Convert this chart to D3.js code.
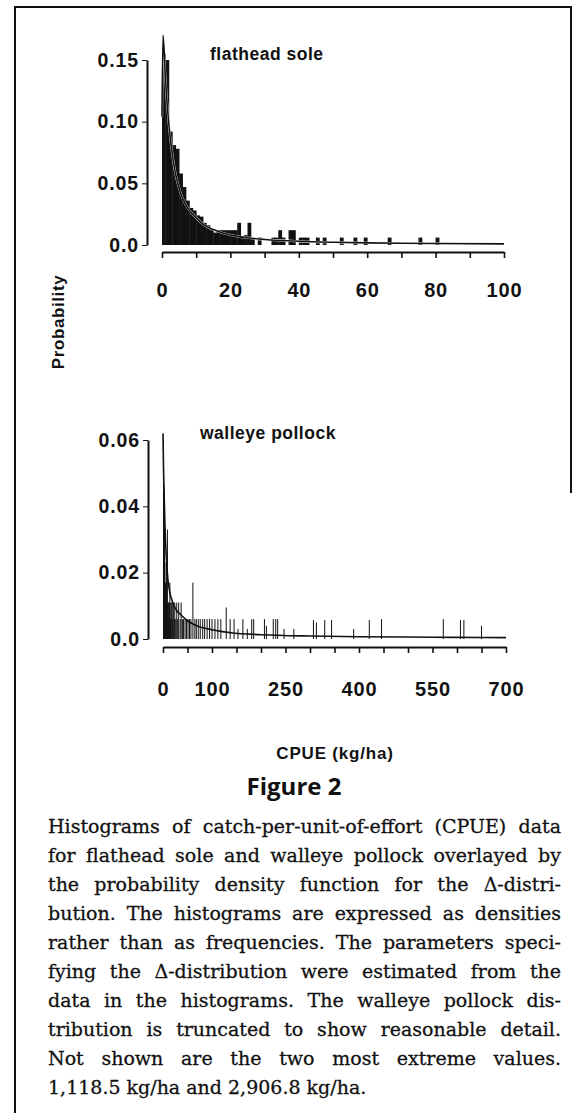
<!DOCTYPE html>
<html>
<head>
<meta charset="utf-8">
<script src="https://cdn.jsdelivr.net/npm/d3@7"></script>
<style>
  html, body { margin: 0; padding: 0; background: #fff; }
  svg { display: block; }
  .ax text { font-family: "Liberation Sans", Arial, sans-serif; font-weight: bold; fill: #111; }
  .ax path, .ax line { stroke: #111; }
</style>
</head>
<body>
<svg id="fig" width="573" height="1113"></svg>
<script>
// flathead sole histogram (bin start in kg/ha, width 1) and density
var soleBin  = [0, 1, 2, 3, 4, 5, 6, 7, 8, 9, 10, 11, 12, 13, 14, 15, 16, 17, 18, 19, 20, 21, 22, 23, 24, 25, 26, 28, 32, 33, 34, 35, 37, 38, 40, 41, 42, 45, 47, 52, 56, 59, 66, 75, 80];
var soleProb = [0.155, 0.150, 0.092, 0.081, 0.078, 0.058, 0.047, 0.036, 0.030, 0.028, 0.024, 0.023, 0.018, 0.016, 0.012, 0.010, 0.012, 0.012, 0.012, 0.012, 0.012, 0.012, 0.018, 0.006, 0.008, 0.018, 0.006, 0.006, 0.006, 0.006, 0.012, 0.006, 0.012, 0.012, 0.006, 0.006, 0.006, 0.006, 0.006, 0.006, 0.006, 0.006, 0.006, 0.006, 0.006];
var soleCurveX = [0, 0.3, 1, 2, 3, 4, 5, 6, 8, 10, 12, 15, 18, 22, 26, 30, 40, 50, 60, 70, 80, 100];
var soleCurveP = [0.104, 0.170, 0.135, 0.098, 0.074, 0.057, 0.046, 0.038, 0.028, 0.022, 0.017, 0.0125, 0.0095, 0.007, 0.0055, 0.0045, 0.003, 0.0022, 0.0017, 0.0014, 0.0012, 0.0009];
var soleYTicks = [0, 0.05, 0.10, 0.15];
var soleYLabels = ["0.0", "0.05", "0.10", "0.15"];
var soleXTicks = [0, 10, 20, 30, 40, 50, 60, 70, 80, 90, 100];
var soleXLabels = [0, 20, 40, 60, 80, 100];

// walleye pollock histogram (bin start in kg/ha, width 1) and density
var pollockBin  = [0, 1, 2, 3, 4, 5, 6, 7, 8, 9, 10, 11, 12, 13, 14, 15, 16, 18, 19, 20, 22, 23, 25, 27, 29, 31, 34, 36, 39, 41, 44, 47, 50, 53, 56, 60, 64, 67, 71, 75, 80, 84, 89, 94, 99, 105, 111, 117, 128, 136, 144, 152, 162, 171, 180, 184, 206, 210, 224, 229, 233, 246, 266, 306, 312, 329, 343, 388, 420, 445, 571, 606, 613, 649];
var pollockProb = [0.060, 0.046, 0.034, 0.023, 0.017, 0.011, 0.023, 0.011, 0.033, 0.011, 0.011, 0.006, 0.011, 0.017, 0.006, 0.011, 0.011, 0.006, 0.011, 0.011, 0.006, 0.011, 0.006, 0.011, 0.006, 0.011, 0.006, 0.011, 0.006, 0.006, 0.006, 0.006, 0.006, 0.006, 0.006, 0.017, 0.006, 0.006, 0.006, 0.006, 0.006, 0.006, 0.006, 0.006, 0.006, 0.006, 0.006, 0.006, 0.0095, 0.006, 0.006, 0.003, 0.006, 0.003, 0.006, 0.006, 0.006, 0.004, 0.006, 0.006, 0.006, 0.003, 0.003, 0.0057, 0.005, 0.0057, 0.0057, 0.003, 0.0057, 0.006, 0.006, 0.0057, 0.0057, 0.004];
var pollockCurveX = [0, 1, 2, 4, 7, 10, 14, 20, 28, 35, 50, 76, 100, 143, 200, 300, 400, 500, 600, 700];
var pollockCurveP = [0.062, 0.052, 0.045, 0.034, 0.024, 0.018, 0.014, 0.011, 0.0085, 0.0075, 0.0055, 0.0036, 0.0028, 0.0018, 0.0013, 0.0009, 0.0007, 0.0006, 0.0005, 0.0004];
var pollockYTicks = [0, 0.02, 0.04, 0.06];
var pollockYLabels = ["0.0", "0.02", "0.04", "0.06"];
var pollockXTicks = [0, 50, 100, 150, 200, 250, 300, 350, 400, 450, 500, 550, 600, 650, 700];
var pollockXLabels = [0, 100, 250, 400, 550, 700];

var captionLines = [
  "Histograms of catch-per-unit-of-effort (CPUE) data",
  "for flathead sole and walleye pollock overlayed by",
  "the probability density function for the \u0394-distri-",
  "bution. The histograms are expressed as densities",
  "rather than as frequencies. The parameters speci-",
  "fying the \u0394-distribution were estimated from the",
  "data in the histograms. The walleye pollock dis-",
  "tribution is truncated to show reasonable detail.",
  "Not shown are the two most extreme values.",
  "1,118.5 kg/ha and 2,906.8 kg/ha."
];

var svg = d3.select("#fig");
var ink = "#111";

// page frame
svg.append("path")
  .attr("d", "M15,1113V7H571V493")
  .attr("fill", "none")
  .attr("stroke", ink)
  .attr("stroke-width", 2);

function panel(p) {
  var x = d3.scaleLinear().domain(p.xDomain).range([p.left, p.right]);
  var y = d3.scaleLinear().domain(p.yDomain).range([p.base, p.top]);
  var g = svg.append("g");

  // histogram bars
  g.selectAll("rect.bar")
    .data(p.bins)
    .enter().append("rect")
    .attr("class", "bar")
    .attr("x", function (d) { return x(d); })
    .attr("width", function (d) { return Math.max(1, x(d + 1) - x(d) + 0.4); })
    .attr("y", function (d, i) { return y(p.probs[i]); })
    .attr("height", function (d, i) { return y(0) - y(p.probs[i]); })
    .attr("fill", ink);

  // density curve
  var pts = p.curveX.map(function (d, i) { return [d, p.curveP[i]]; });
  var line = d3.line()
    .x(function (d) { return x(d[0]); })
    .y(function (d) { return y(d[1]); })
    .curve(d3.curveMonotoneX);
  if (p.halo) {
    g.append("path").attr("d", line(pts)).attr("fill", "none")
      .attr("stroke", "#fff").attr("stroke-width", 2.2);
  }
  g.append("path").attr("d", line(pts)).attr("fill", "none")
    .attr("stroke", ink).attr("stroke-width", 1.6);

  // y axis
  var yAxis = svg.append("g").attr("class", "ax")
    .attr("transform", "translate(" + p.yAxisX + ",0)")
    .call(d3.axisLeft(y).tickValues(p.yTicks)
      .tickFormat(function (d, i) { return p.yLabels[i]; })
      .tickSize(5).tickSizeOuter(0).tickPadding(3));
  yAxis.select(".domain").attr("stroke-width", 2);
  yAxis.selectAll("text").style("font-size", "19.5px").style("letter-spacing", "0.9px");

  // x axis
  var xAxis = svg.append("g").attr("class", "ax")
    .attr("transform", "translate(0," + p.xAxisY + ")")
    .call(d3.axisBottom(x).tickValues(p.xTicks)
      .tickFormat(function (d) { return p.xLabels.indexOf(d) >= 0 ? d : ""; })
      .tickSize(6).tickSizeOuter(0));
  xAxis.select(".domain").attr("stroke-width", 2);
  xAxis.selectAll(".tick line").attr("stroke-width", 1.6);
  xAxis.selectAll("text").attr("y", p.labelDrop).attr("dy", 0)
    .style("font-size", "20px").style("letter-spacing", "0.8px");

  // species name
  svg.append("text")
    .attr("x", p.nameX).attr("y", p.nameY)
    .style("font-family", "'Liberation Sans', Arial, sans-serif")
    .style("font-weight", "bold").style("font-size", "17.5px")
    .style("letter-spacing", "0.5px")
    .attr("fill", ink)
    .text(p.name);
}

panel({
  name: "flathead sole", nameX: 210, nameY: 60,
  bins: soleBin, probs: soleProb, curveX: soleCurveX, curveP: soleCurveP,
  xDomain: [0, 100], yDomain: [0, 0.15],
  left: 162, right: 504, base: 245, top: 60,
  yAxisX: 147, xAxisY: 252, labelDrop: 45,
  yTicks: soleYTicks, yLabels: soleYLabels, xTicks: soleXTicks, xLabels: soleXLabels,
  halo: true
});

panel({
  name: "walleye pollock", nameX: 200, nameY: 439,
  bins: pollockBin, probs: pollockProb, curveX: pollockCurveX, curveP: pollockCurveP,
  xDomain: [0, 700], yDomain: [0, 0.06],
  left: 163, right: 506, base: 639, top: 440,
  yAxisX: 148, xAxisY: 647, labelDrop: 49,
  yTicks: pollockYTicks, yLabels: pollockYLabels, xTicks: pollockXTicks, xLabels: pollockXLabels,
  halo: false
});

// shared axis titles
svg.append("text")
  .attr("transform", "translate(64,322) rotate(-90)")
  .attr("text-anchor", "middle")
  .style("font-family", "'Liberation Sans', Arial, sans-serif")
  .style("font-weight", "bold").style("font-size", "17px")
  .style("letter-spacing", "0.6px")
  .attr("fill", ink)
  .text("Probability");

svg.append("text")
  .attr("x", 335).attr("y", 759)
  .attr("text-anchor", "middle")
  .style("font-family", "'Liberation Sans', Arial, sans-serif")
  .style("font-weight", "bold").style("font-size", "17px")
  .style("letter-spacing", "0.8px")
  .attr("fill", ink)
  .text("CPUE (kg/ha)");

// figure number
svg.append("text")
  .attr("x", 294).attr("y", 795)
  .attr("text-anchor", "middle")
  .style("font-family", "'Open Sans', sans-serif")
  .style("font-weight", "bold").style("font-size", "24px")
  .attr("fill", ink)
  .text("Figure 2");

// caption, justified line by line
var capLeft = 48, capRight = 561;
captionLines.forEach(function (t, i) {
  var txt = svg.append("text")
    .attr("x", capLeft).attr("y", 833 + i * 29)
    .style("font-family", "'DejaVu Serif', serif")
    .style("font-size", "19px")
    .attr("fill", ink)
    .attr("stroke", ink).attr("stroke-width", 0.3)
    .text(t);
  if (i < captionLines.length - 1) {
    var len = txt.node().getComputedTextLength();
    var gaps = t.split(" ").length - 1;
    var extra = (capRight - capLeft - len) / gaps;
    if (extra >= 0) {
      txt.attr("word-spacing", extra);
    } else {
      txt.attr("textLength", capRight - capLeft).attr("lengthAdjust", "spacingAndGlyphs");
    }
  }
});
</script>
</body>
</html>
